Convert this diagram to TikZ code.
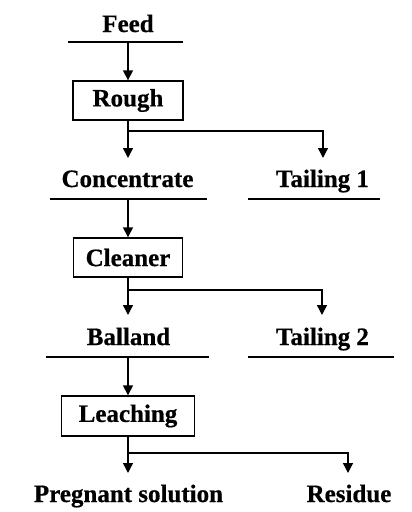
\documentclass[tikz,border=0pt]{standalone}
\usepackage{fontspec}
\setmainfont{Liberation Serif}[BoldFeatures={FakeBold=0.6}]
\usetikzlibrary{arrows.meta}
\tikzset{
  lbl/.style={font=\bfseries\fontsize{25}{29}\selectfont, inner sep=0pt, anchor=base},
  unit/.style={draw, line width=1.4pt, inner sep=0pt, minimum height=39pt,
    font=\bfseries\fontsize{25}{29}\selectfont},
  flow/.style={line width=1.4pt, -{Triangle[length=10pt,width=10pt]}},
  rule/.style={line width=1.4pt},
}
\begin{document}
\begin{tikzpicture}[x=1pt,y=-1pt]
\useasboundingbox (0,0) rectangle (412,512);

% streams: label with a rule underneath
\node[lbl] (feed) at (128,32) {Feed};
\coordinate (feedL) at (68,42);  \coordinate (feedR) at (183,42);
\coordinate (feedM) at (128,42);

\node[lbl] (conc) at (127.5,187) {Concentrate};
\coordinate (concL) at (50,199); \coordinate (concR) at (207,199);
\coordinate (concM) at (128,199);
\node[lbl] (tail1) at (322.5,187) {Tailing 1};
\coordinate (t1L) at (248,199); \coordinate (t1R) at (380,199);

\node[lbl] (ball) at (128.5,345) {Balland};
\coordinate (ballL) at (46,357); \coordinate (ballR) at (209,357);
\coordinate (ballM) at (128,357);
\node[lbl] (tail2) at (322.5,345) {Tailing 2};
\coordinate (t2L) at (248,357); \coordinate (t2R) at (394,357);

\node[lbl] (preg) at (128.5,502) {Pregnant solution};
\node[lbl] (res) at (349,502) {Residue};

\foreach \a/\b in {feedL/feedR, concL/concR, t1L/t1R, ballL/ballR, t2L/t2R}
  \draw[rule] (\a) -- (\b);

% process units
\node[unit, minimum width=110pt] (rough) at (128,100.5) {Rough};
\node[unit, minimum width=109pt] (clean) at (128,257.5) {Cleaner};
\node[unit, minimum width=133pt, minimum height=40pt] (leach) at (128,416) {Leaching};

% branch points and arrow targets
\coordinate (b1) at (128,131); \coordinate (c1) at (128,158); \coordinate (d1) at (323,158);
\coordinate (b2) at (128,290); \coordinate (c2) at (128,315); \coordinate (d2) at (322,315);
\coordinate (b3) at (128,453); \coordinate (c3) at (128,473); \coordinate (d3) at (348,473);

% flows
\draw[flow] (feedM) -- (rough.north);
\draw[flow] (rough.south) -- (c1);
\draw[flow] (b1) -| (d1);
\draw[flow] (concM) -- (clean.north);
\draw[flow] (clean.south) -- (c2);
\draw[flow] (b2) -| (d2);
\draw[flow] (ballM) -- (leach.north);
\draw[flow] (leach.south) -- (c3);
\draw[flow] (b3) -| (d3);
\end{tikzpicture}
\end{document}
